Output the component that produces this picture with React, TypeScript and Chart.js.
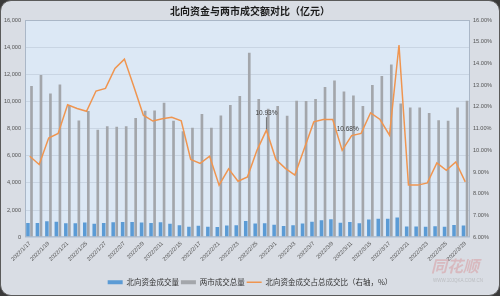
import React, { useEffect, useRef } from 'react';
import { Chart, registerables } from 'chart.js';

Chart.register(...registerables);

const dates = [
  '2022/1/17', '2022/1/18', '2022/1/19', '2022/1/20', '2022/1/21', '2022/1/24', '2022/1/25', '2022/1/26', '2022/1/27', '2022/1/28',
  '2022/2/7', '2022/2/8', '2022/2/9', '2022/2/10', '2022/2/11', '2022/2/14', '2022/2/15', '2022/2/16', '2022/2/17', '2022/2/18',
  '2022/2/21', '2022/2/22', '2022/2/23', '2022/2/24', '2022/2/25', '2022/2/28',
  '2022/3/1', '2022/3/2', '2022/3/3', '2022/3/4', '2022/3/7', '2022/3/8', '2022/3/9', '2022/3/10', '2022/3/11', '2022/3/14',
  '2022/3/15', '2022/3/16', '2022/3/17', '2022/3/18', '2022/3/21', '2022/3/22', '2022/3/23', '2022/3/24', '2022/3/25', '2022/3/28', '2022/3/29',
];

const northbound = [
  1055, 1055, 1180, 1150, 1030, 1040, 1080, 1000, 1050, 1110,
  1130, 1120, 1080, 1050, 1110, 990, 885, 770, 850, 780,
  750, 870, 890, 1190, 1010, 1030,
  920, 820, 890, 1010, 1150, 1260, 1320, 1070, 1115, 1040,
  1310, 1355, 1360, 1460, 800, 800, 780, 810, 780, 905, 860,
];

const marketTotal = [
  11133, 11944, 10594, 11258, 9732, 8604, 9290, 7913, 8184, 8134,
  8184, 8774, 9314, 9339, 9904, 8577, 7800, 8060, 9070, 8060,
  8970, 9732, 10400, 13590, 10175, 9462,
  9659, 8946, 10052, 10027, 10175, 11060, 11550, 10741, 10445, 9659,
  11207, 11870, 12730, 9855, 9560, 9560, 9142, 8626, 8577, 9560, 10052,
];

const ratio = [
  9.73, 9.35, 10.57, 10.78, 12.1, 11.93, 11.8, 12.73, 12.85, 13.77,
  14.2, 12.93, 11.62, 11.35, 11.45, 11.52, 11.36, 9.58, 9.4, 9.73,
  8.4, 9.15, 8.58, 8.78, 10.0, 10.93,
  9.58, 9.17, 8.86, 10.09, 11.31, 11.42, 11.42, 10.0, 10.68, 10.78,
  11.73, 11.42, 10.7, 14.85, 8.4, 8.4, 8.5, 9.42, 9.08, 9.47, 8.55,
];

const labelledPoints = [25, 34];

const seriesNames = ['北向资金成交量', '两市成交总量', '北向资金成交占总成交比（右轴，%）'];
const titleText = '北向资金与两市成交额对比（亿元）';

const CJK = '"Noto Sans CJK SC", "Liberation Sans", sans-serif';
const LATIN = '"Liberation Sans", "Noto Sans CJK SC", sans-serif';

export default function App() {
  const canvasRef = useRef<HTMLCanvasElement | null>(null);

  useEffect(() => {
    const canvas = canvasRef.current;
    if (!canvas) return;

    const decor = {
      id: 'decor',
      beforeDraw(chart: any) {
        const { ctx, chartArea: a } = chart;
        ctx.save();
        ctx.fillStyle = '#dce8f5';
        ctx.fillRect(a.left, a.top, a.right - a.left, a.bottom - a.top);
        ctx.restore();
      },
      afterDatasetsDraw(chart: any) {
        const { ctx, chartArea: a } = chart;
        ctx.save();
        ctx.strokeStyle = '#aab7c7';
        ctx.lineWidth = 1;
        ctx.strokeRect(a.left + 0.5, a.top + 0.5, a.right - a.left - 1, a.bottom - a.top - 1);
        const meta = chart.getDatasetMeta(2);
        ctx.font = `6.5px ${LATIN}`;
        ctx.fillStyle = '#404040';
        ctx.textAlign = 'center';
        ctx.textBaseline = 'middle';
        labelledPoints.forEach((idx, k) => {
          const p = meta.data[idx];
          if (!p) return;
          const txt = ratio[idx].toFixed(2) + '%';
          if (k === 0) {
            ctx.fillText(txt, p.x, p.y - 17);
            ctx.strokeStyle = '#555';
            ctx.lineWidth = 0.8;
            ctx.beginPath();
            ctx.moveTo(p.x, p.y - 13);
            ctx.lineTo(p.x, p.y - 1);
            ctx.stroke();
          } else {
            ctx.fillText(txt, p.x - 4, p.y - 6);
          }
        });
        ctx.restore();
      },
      afterDraw(chart: any) {
        const { ctx } = chart;
        ctx.save();
        ctx.fillStyle = 'rgba(215,80,80,0.25)';
        ctx.font = `italic bold 16px ${CJK}`;
        ctx.textAlign = 'left';
        ctx.textBaseline = 'middle';
        ctx.fillText('同花顺', 431, 266);
        ctx.font = `4.5px ${LATIN}`;
        ctx.fillStyle = 'rgba(150,150,150,0.45)';
        ctx.fillText('WWW.10JQKA.COM.CN', 433, 281);
        ctx.restore();
      },
    };

    const chart = new Chart(canvas, {
      type: 'bar',
      data: {
        labels: dates,
        datasets: [
          {
            label: seriesNames[0],
            data: northbound,
            backgroundColor: '#5b9bd5',
            yAxisID: 'y',
            categoryPercentage: 0.75,
            barPercentage: 1.0,
            pointStyle: 'rect',
          } as any,
          {
            label: seriesNames[1],
            data: marketTotal,
            backgroundColor: '#a3a6ab',
            yAxisID: 'y',
            categoryPercentage: 0.75,
            barPercentage: 0.75,
            pointStyle: 'rect',
          } as any,
          {
            type: 'line',
            label: seriesNames[2],
            data: ratio,
            borderColor: '#ef9550',
            backgroundColor: '#ef9550',
            borderWidth: 1.5,
            pointRadius: 0,
            tension: 0,
            yAxisID: 'y1',
            order: -1,
            pointStyle: 'line',
          } as any,
        ],
      },
      options: {
        animation: false,
        responsive: false,
        maintainAspectRatio: false,
        layout: { padding: { left: 0, right: 0, top: 0, bottom: 0 } },
        plugins: {
          title: {
            display: true,
            text: titleText,
            color: '#1a1a1a',
            font: { size: 10, weight: 'bold', family: CJK },
            padding: { top: 5, bottom: 3 },
          },
          legend: {
            position: 'bottom',
            labels: {
              usePointStyle: true,
              pointStyleWidth: 15,
              boxHeight: 4,
              padding: 2,
              color: '#333',
              font: { size: 7.5, family: CJK },
              sort: (a: any, b: any) => a.datasetIndex - b.datasetIndex,
            },
          },
          tooltip: { enabled: false },
        },
        scales: {
          x: {
            grid: { display: false, drawTicks: false },
            border: { display: false },
            ticks: {
              autoSkip: false,
              maxRotation: 45,
              minRotation: 45,
              padding: 3,
              color: '#555',
              font: { size: 5.6, family: LATIN },
              callback: (_v: any, i: number) => (i % 2 === 0 ? dates[i] : ''),
            },
            afterFit: (s: any) => { s.height = 39.25; },
          },
          y: {
            position: 'left',
            min: 0,
            max: 16000,
            grid: { color: '#c9d5e3', drawTicks: false },
            border: { display: false },
            ticks: {
              stepSize: 2000,
              padding: 4,
              color: '#555',
              font: { size: 5.6, family: LATIN },
              callback: (v: any) => Number(v).toLocaleString('en-US'),
            },
            afterFit: (s: any) => { s.width = 25; },
          },
          y1: {
            position: 'right',
            min: 6,
            max: 16,
            grid: { display: false, drawTicks: false },
            border: { display: false },
            ticks: {
              stepSize: 1,
              padding: 3,
              color: '#555',
              font: { size: 5.6, family: LATIN },
              callback: (v: any) => Number(v).toFixed(2) + '%',
            },
            afterFit: (s: any) => { s.width = 30; },
          },
        },
      } as any,
      plugins: [decor],
    });

    return () => chart.destroy();
  }, []);

  return (
    <div style={{ position: 'fixed', left: 0, top: 0, width: 500, height: 296, background: '#3a3a3a' }}>
      <div
        style={{
          position: 'absolute',
          inset: 0,
          borderRadius: 11,
          background: '#d9dde4',
          border: '1px solid #5a5a5a',
          boxSizing: 'border-box',
        }}
      />
      <canvas ref={canvasRef} width={500} height={296} style={{ position: 'absolute', left: 0, top: 0, width: 500, height: 296 }} />
    </div>
  );
}
